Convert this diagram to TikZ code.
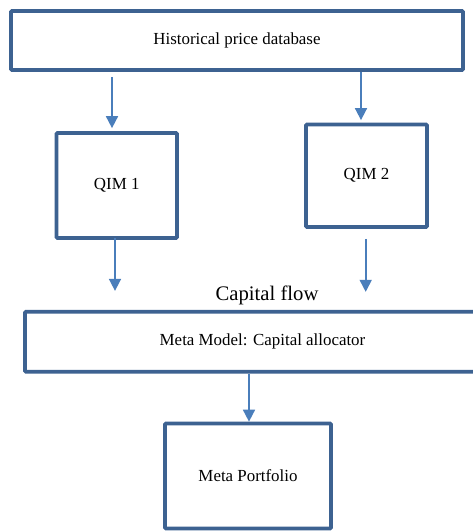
\documentclass[tikz,border=0pt]{standalone}
\usepackage{fontspec}
\setmainfont{Liberation Serif}
\usetikzlibrary{arrows.meta}
\definecolor{boxblue}{RGB}{61,98,145}
\definecolor{arrblue}{RGB}{74,126,187}
\tikzset{
  blockbox/.style={draw=boxblue, line width=3.7pt, rectangle, rounded corners=1pt,
    fill=white, inner sep=0pt, font=\fontsize{16.9}{20}\selectfont},
  flowarr/.style={draw=arrblue, line width=1.7pt, -{Triangle[width=12pt,length=12pt]}},
}
\begin{document}
\begin{tikzpicture}[x=1pt,y=1pt]
\useasboundingbox (0,0) rectangle (473,-531);
\clip (0,0) rectangle (473,-531);
\fill[white] (0,0) rectangle (473,-531);
\node[blockbox, minimum width=452, minimum height=59] (db) at (237,-40.5) {Historical price database};
\node[blockbox, minimum width=120.5, minimum height=105] (q1) at (116.7,-185.5) {QIM 1};
\node[blockbox, minimum width=121, minimum height=102.5] (q2) at (366.5,-175.7) {QIM 2};
\node[blockbox, minimum width=475, minimum height=60] (meta) at (262.5,-341.7) {Meta Model: Capital allocator};
\node[blockbox, minimum width=166, minimum height=105] (folio) at (248,-476) {Meta Portfolio};
\node[anchor=base, inner sep=0pt, font=\fontsize{20.7}{24}\selectfont] (cf) at (267,-300) {Capital flow};
\draw[flowarr, shorten <=5pt, shorten >=3pt] ([xshift=-4.7pt]q1.north |- db.south) -- ([xshift=-4.7pt]q1.north);
\draw[flowarr, shorten >=2.5pt] ([xshift=-5.5pt]q2.north |- db.south) -- ([xshift=-5.5pt]q2.north);
\draw[flowarr, shorten <=-2pt, shorten >=19pt] ([xshift=-1.7pt]q1.south) -- ([xshift=-1.7pt]q1.south |- meta.north);
\draw[flowarr, shorten <=10pt, shorten >=18pt] ([xshift=-0.8pt]q2.south) -- ([xshift=-0.8pt]q2.south |- meta.north);
\draw[flowarr] (folio.north |- meta.south) ++(1pt,0) coordinate (m5) (m5) -- (m5 |- folio.north);
\end{tikzpicture}
\end{document}
